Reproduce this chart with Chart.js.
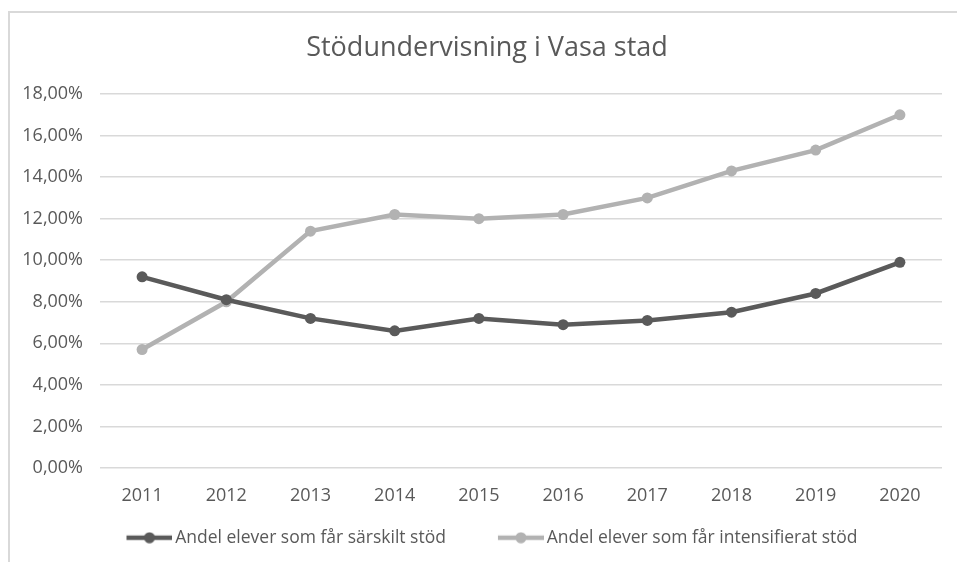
<!DOCTYPE html>
<html lang="sv">
<head>
<meta charset="UTF-8">
<title>Stödundervisning i Vasa stad</title>
<script src="https://cdn.jsdelivr.net/npm/chart.js"></script>
<style>
    html, body { margin: 0; padding: 0; background: #ffffff; }
    /* Ramen runt diagrammet (bara topp och vänster syns i originalet) */
    .frame {
        position: absolute;
        left: 8px;
        top: 11px;
        width: 960px;
        height: 560px;
        border-top: 2px solid #d9d9d9;
        border-left: 2px solid #d9d9d9;
        box-sizing: border-box;
    }
    .wrap { position: absolute; left: 0; top: 0; width: 957px; height: 562px; }
</style>
</head>
<body>
<div class="frame"></div>
<div class="wrap"><canvas id="chart" width="957" height="562"></canvas></div>

<script>
    // --- Data ---
    const years = ['2011', '2012', '2013', '2014', '2015', '2016', '2017', '2018', '2019', '2020'];
    const sarskiltStod = [9.2, 8.1, 7.2, 6.6, 7.2, 6.9, 7.1, 7.5, 8.4, 9.9];          // procent
    const intensifieratStod = [5.7, 8.0, 11.4, 12.2, 12.0, 12.2, 13.0, 14.3, 15.3, 17.0]; // procent
    const seriesNames = ['Andel elever som får särskilt stöd', 'Andel elever som får intensifierat stöd'];
    const seriesColors = ['#5a5a5a', '#b2b2b2'];

    const textColor = '#595959';
    const fontFamily = "'Open Sans', sans-serif";

    // Legendsymbol: linje med prick i mitten (som i Excel).
    // Tom yta till vänster ger avståndet mellan posterna.
    function legendIcon(color) {
        const c = document.createElement('canvas');
        c.width = 94;
        c.height = 12;
        const g = c.getContext('2d');
        g.strokeStyle = color;
        g.lineWidth = 4.5;
        g.beginPath();
        g.moveTo(48, 6);
        g.lineTo(94, 6);
        g.stroke();
        g.fillStyle = color;
        g.beginPath();
        g.arc(71, 6, 5.5, 0, Math.PI * 2);
        g.fill();
        return c;
    }
    const icons = seriesColors.map(legendIcon);

    const fmt = v => v.toFixed(2).replace('.', ',') + '%';

    // Titeln står lite till höger om mitten i originalet (centrerad över ritytan)
    const shiftTitle = {
        id: 'shiftTitle',
        afterLayout(chart) {
            const t = chart.titleBlock;
            if (t) { t.left += 16; t.right += 16; }
        }
    };

    new Chart(document.getElementById('chart'), {
        type: 'line',
        data: {
            labels: years,
            datasets: [sarskiltStod, intensifieratStod].map((d, i) => ({
                label: seriesNames[i],
                data: d,
                borderColor: seriesColors[i],
                backgroundColor: seriesColors[i],
                borderWidth: 4.5,
                pointRadius: 5.5,
                pointBorderWidth: 0,
                tension: 0
            }))
        },
        options: {
            responsive: false,
            animation: false,
            layout: { padding: { left: 0, right: 15, top: 10, bottom: 5.5 } },
            plugins: {
                title: {
                    display: true,
                    text: 'Stödundervisning i Vasa stad',
                    color: textColor,
                    font: { family: fontFamily, size: 27, weight: 'normal' },
                    padding: { top: 22.5, bottom: 29.1 }
                },
                legend: {
                    position: 'bottom',
                    labels: {
                        color: textColor,
                        font: { family: fontFamily, size: 17.5 },
                        usePointStyle: true,
                        pointStyleWidth: 82,
                        padding: 10,
                        generateLabels(chart) {
                            const items = Chart.defaults.plugins.legend.labels.generateLabels(chart);
                            items.forEach((it, i) => { it.pointStyle = icons[i]; });
                            return items;
                        }
                    }
                },
                tooltip: { enabled: false }
            },
            scales: {
                x: {
                    offset: true,
                    afterFit(scale) { scale.height = 51; },
                    grid: { display: false, drawTicks: false },
                    border: { display: false },
                    ticks: { color: textColor, font: { family: fontFamily, size: 18 }, padding: 17 }
                },
                y: {
                    min: 0,
                    max: 18,
                    afterFit(scale) { scale.width = 100; },
                    border: { display: false },
                    grid: { color: '#d9d9d9', lineWidth: 1.5, drawTicks: false },
                    ticks: {
                        stepSize: 2,
                        color: textColor,
                        font: { family: fontFamily, size: 18 },
                        padding: 17,
                        callback: v => fmt(v)
                    }
                }
            }
        },
        plugins: [shiftTitle]
    });
</script>
</body>
</html>
